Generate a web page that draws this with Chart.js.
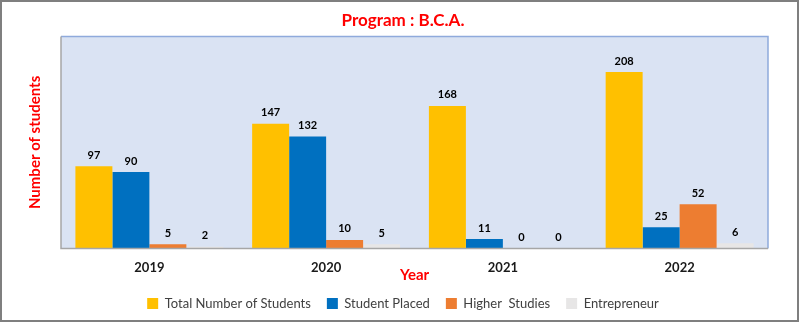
<!DOCTYPE html>
<html>
<head>
<meta charset="utf-8">
<script src="https://cdn.jsdelivr.net/npm/chart.js@4/dist/chart.umd.min.js"></script>
<style>
  body { margin: 0; background: #fff; }
  canvas { display: block; }
</style>
</head>
<body>
<canvas id="myChart" width="800" height="323"></canvas>
<script>
// data
const years = ["2019", "2020", "2021", "2022"];
const totalStudents = [97, 147, 168, 208];
const studentPlaced = [90, 132, 11, 25];
const higherStudies = [5, 10, 0, 52];
const entrepreneur = [2, 5, 0, 6];

const fontFamily = "Lato, 'Open Sans', sans-serif";

// plot background, plot border, outer frame and value labels
const decorPlugin = {
  id: "decor",
  beforeDraw(chart) {
    const { ctx, chartArea: a } = chart;
    ctx.save();
    ctx.fillStyle = "#dae3f3";
    ctx.fillRect(a.left, a.top, a.right - a.left, a.bottom - a.top);
    ctx.restore();
  },
  afterDatasetsDraw(chart) {
    const { ctx, chartArea: a } = chart;
    ctx.save();
    ctx.lineWidth = 1.5;
    ctx.strokeStyle = "#8faadc";
    ctx.beginPath();
    ctx.moveTo(a.left, a.top);
    ctx.lineTo(a.right, a.top);
    ctx.lineTo(a.right, a.bottom);
    ctx.stroke();
    ctx.strokeStyle = "#a6a6a6";
    ctx.beginPath();
    ctx.moveTo(a.left, a.top);
    ctx.lineTo(a.left, a.bottom);
    ctx.lineTo(a.right, a.bottom);
    ctx.stroke();

    ctx.font = "bold 11px " + fontFamily;
    ctx.fillStyle = "#000";
    ctx.textAlign = "center";
    ctx.textBaseline = "middle";
    chart.data.datasets.forEach((ds, i) => {
      chart.getDatasetMeta(i).data.forEach((bar, j) => {
        ctx.fillText(ds.data[j], bar.x, bar.y - 11);
      });
    });
    ctx.restore();
  },
  afterDraw(chart) {
    const { ctx, width, height } = chart;
    ctx.save();
    ctx.strokeStyle = "#7f7f7f";
    ctx.lineWidth = 2;
    ctx.strokeRect(1, 1, width - 3, height - 3);
    ctx.restore();
  },
};

const ctx = document.getElementById("myChart").getContext("2d");
new Chart(ctx, {
  type: "bar",
  data: {
    labels: years,
    datasets: [
      { label: "Total Number of Students", data: totalStudents, backgroundColor: "#ffc000" },
      { label: "Student Placed", data: studentPlaced, backgroundColor: "#0070c0" },
      { label: "Higher  Studies", data: higherStudies, backgroundColor: "#ed7d31" },
      { label: "Entrepreneur", data: entrepreneur, backgroundColor: "#e7e6e6" },
    ],
  },
  options: {
    responsive: false,
    animation: false,
    layout: { padding: { left: 38, right: 32, top: 0, bottom: 3 } },
    datasets: { bar: { barPercentage: 1, categoryPercentage: 0.837 } },
    scales: {
      x: {
        grid: { display: false, drawTicks: false },
        border: { display: false },
        ticks: {
          color: "#1a1a1a",
          padding: 12,
          font: { family: fontFamily, size: 13, weight: "bold" },
        },
        title: {
          display: true,
          text: "Year",
          color: "#ff0000",
          padding: { top: -22, bottom: -3 },
          font: { family: fontFamily, size: 15, weight: "bold" },
        },
      },
      y: {
        min: 0,
        max: 250,
        grid: { display: false, drawTicks: false },
        border: { display: false },
        ticks: { display: false },
        title: {
          display: true,
          text: "Number of students",
          color: "#ff0000",
          padding: { top: -12, bottom: 17 },
          font: { family: fontFamily, size: 15, weight: "bold" },
        },
      },
    },
    plugins: {
      title: {
        display: true,
        text: "Program : B.C.A.",
        color: "#ff0000",
        padding: { top: 10, bottom: 6 },
        font: { family: fontFamily, size: 17, weight: "bold" },
      },
      legend: {
        position: "bottom",
        labels: {
          boxWidth: 11,
          boxHeight: 11,
          padding: 16,
          color: "#404040",
          font: { family: fontFamily, size: 13 },
        },
      },
      tooltip: { enabled: false },
    },
  },
  plugins: [decorPlugin],
});
</script>
</body>
</html>
